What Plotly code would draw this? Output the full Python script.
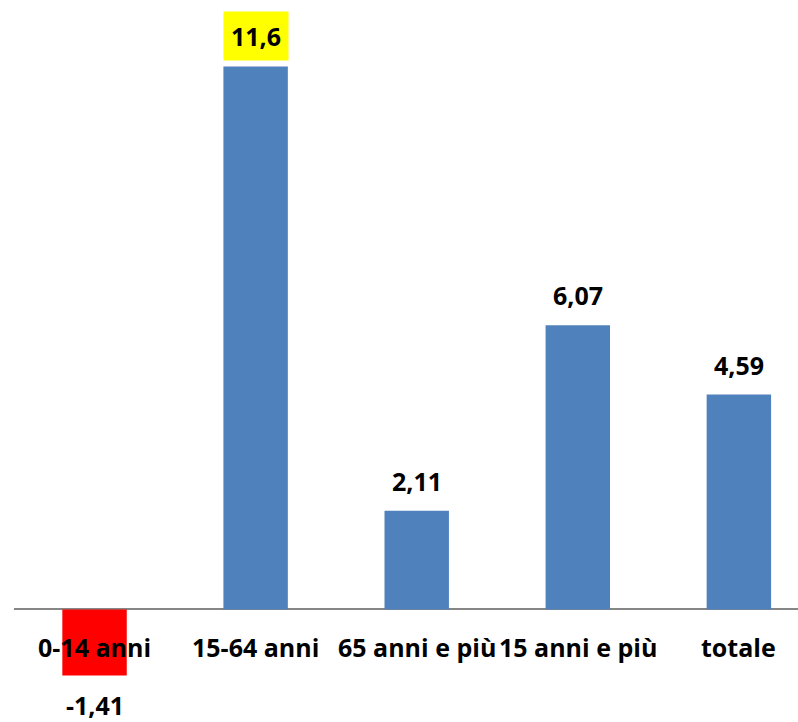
import plotly.graph_objects as go

categories = ["0-14 anni", "15-64 anni", "65 anni e più", "15 anni e più", "totale"]
values = [-1.41, 11.6, 2.11, 6.07, 4.59]
labels = ["-1,41", "11,6", "2,11", "6,07", "4,59"]

bar_colors = ["#FF0000" if v < 0 else "#4F81BD" for v in values]
FONT = dict(family="Open Sans", size=25, color="black", weight="bold")

fig = go.Figure(go.Bar(
    x=categories, y=values, width=0.4,
    marker_color=bar_colors, marker_line_width=0,
))

# data labels above/below bars; the max gets a yellow box
vmax = max(values)
for cat, v, lab in zip(categories, values, labels):
    fig.add_annotation(
        x=cat, y=v, text=lab, showarrow=False, font=FONT,
        yanchor="middle", yshift=30 if v >= 0 else -30,
        bgcolor="#FFFF00" if v == vmax else None, borderpad=7,
    )

# category labels sitting just under the zero line
for cat in categories:
    fig.add_annotation(
        x=cat, y=0, text=cat, showarrow=False, font=FONT,
        yanchor="middle", yshift=-38,
    )

fig.update_layout(
    width=798, height=722,
    margin=dict(l=14, r=0, t=0, b=0),
    plot_bgcolor="white", paper_bgcolor="white",
    showlegend=False,
    xaxis=dict(range=[-0.5, 4.367], showticklabels=False, showgrid=False,
               zeroline=False, showline=False),
    yaxis=dict(range=[-2.404, 13.02], showticklabels=False, showgrid=False,
               zeroline=True, zerolinecolor="#868686", zerolinewidth=2),
)

# drop the default page margin so the chart fills the window
fig.write_html("out.html", config={"displayModeBar": False},
               post_script="document.body.style.margin='0';")
